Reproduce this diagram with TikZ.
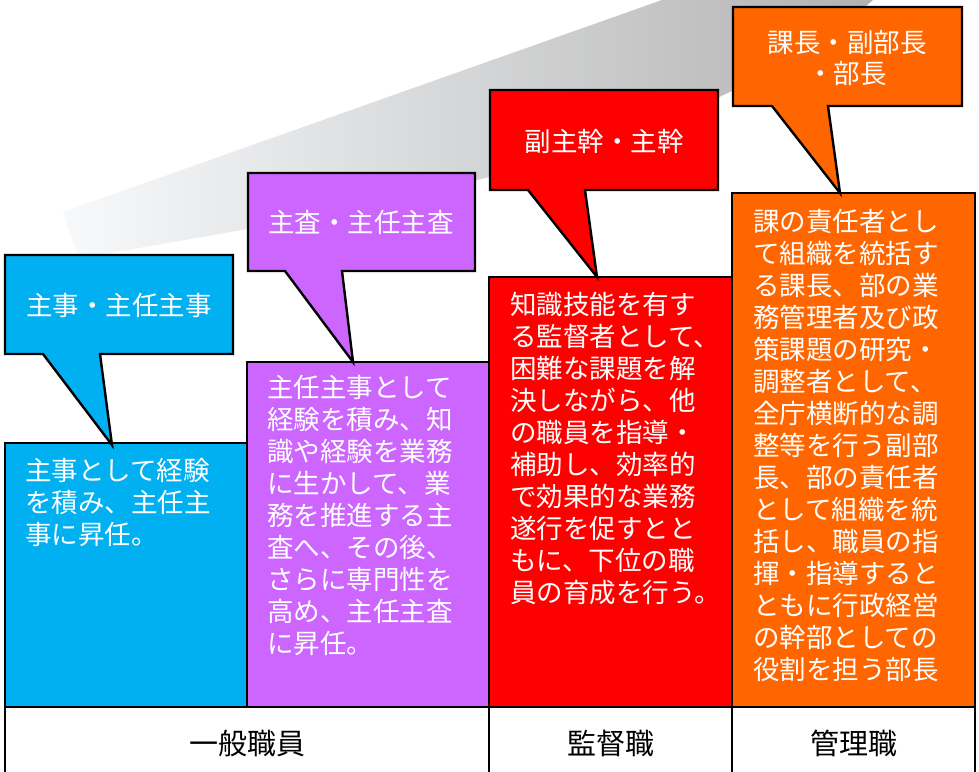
\documentclass[tikz,border=0pt]{standalone}
\usepackage{fontspec}
\usepackage{xcolor}
\usepackage{tikz}
\usetikzlibrary{positioning}
\newfontfamily\jpfont{Noto Sans CJK JP}
\definecolor{colCyan}{HTML}{00B0F0}
\definecolor{colPurple}{HTML}{CC66FF}
\definecolor{colRed}{HTML}{FF0000}
\definecolor{colOrange}{HTML}{FF6600}
\definecolor{bandLight}{HTML}{F7F9FB}
\definecolor{bandDark}{HTML}{B2B2B2}
\tikzset{
    bubble/.style={draw=black, line width=2.4pt, line join=miter},
    column/.style={rectangle, draw=black, line width=1.6pt, anchor=south west, inner sep=0pt, outer sep=0pt},
    coltext/.style={anchor=north west, align=left, inner sep=0pt, text=white, font=\jpfont\fontsize{26.5}{32}\selectfont},
    captext/.style={align=center, inner sep=0pt, text=white, font=\jpfont\fontsize{26.5}{31}\selectfont},
    rank/.style={rectangle, draw=black, line width=2.6pt, anchor=north west, inner sep=0pt, outer sep=0pt, minimum height=72pt, font=\jpfont\fontsize{29}{32}\selectfont},
}

\begin{document}
\begin{tikzpicture}[x=1pt, y=-1pt]
    \useasboundingbox (0,0) rectangle (979,771);
    \shade[left color=bandLight, right color=bandDark]
        (63,212) -- (78,258) .. controls (400,205) and (700,150) .. (873,0) -- (662,0) -- cycle;

    \node[column, fill=colCyan, minimum width=242pt, minimum height=264pt] (cyan) at (5,707) {};
    \node[column, fill=colPurple, minimum width=242pt, minimum height=345pt] (purple) at (cyan.south east) {};
    \node[column, fill=colRed, minimum width=243pt, minimum height=430pt] (red) at (purple.south east) {};
    \node[column, fill=colOrange, minimum width=243pt, minimum height=514pt] (orange) at (red.south east) {};

    \draw[bubble, fill=colCyan] (5,255) -- (233,255) -- (233,354) -- (100,354) -- (112,445) -- (43,354) -- (5,354) -- cycle;
    \draw[bubble, fill=colPurple] (248,173) -- (475,173) -- (475,271) -- (342,271) -- (353,362) -- (285,271) -- (248,271) -- cycle;
    \draw[bubble, fill=colRed] (490,90) -- (718,90) -- (718,190) -- (585,190) -- (597,277) -- (528,190) -- (490,190) -- cycle;
    \draw[bubble, fill=colOrange] (733,7) -- (962,7) -- (962,106) -- (828,106) -- (840,193) -- (772,106) -- (733,106) -- cycle;

    \node[captext] (shuji) at (119,305) {主事・主任主事};
    \node[captext] (shusa) at (361,222) {主査・主任主査};
    \node[captext] (shukan) at (604,141) {副主幹・主幹};
    \node[captext] (bucho) at (847,58) {課長・副部長\\・部長};

    \node[coltext] (cyantxt) at ([xshift=20pt, yshift=-15pt]cyan.north west)
        {主事として経験\\を積み、主任主\\事に昇任。};
    \node[coltext] (purpletxt) at ([xshift=20pt, yshift=-13pt]purple.north west)
        {主任主事として\\経験を積み、知\\識や経験を業務\\に生かして、業\\務を推進する主\\査へ、その後、\\さらに専門性を\\高め、主任主査\\に昇任。};
    \node[coltext] (redtxt) at ([xshift=21pt, yshift=-15pt]red.north west)
        {知識技能を有す\\る監督者として、\\困難な課題を解\\決しながら、他\\の職員を指導・\\補助し、効率的\\で効果的な業務\\遂行を促すとと\\もに、下位の職\\員の育成を行う。};
    \node[coltext] (orangetxt) at ([xshift=21pt, yshift=-16pt]orange.north west)
        {課の責任者とし\\て組織を統括す\\る課長、部の業\\務管理者及び政\\策課題の研究・\\調整者として、\\全庁横断的な調\\整等を行う副部\\長、部の責任者\\として組織を統\\括し、職員の指\\揮・指導すると\\ともに行政経営\\の幹部としての\\役割を担う部長};

    \node[rank, minimum width=484pt] (ippan) at (cyan.south west) {一般職員};
    \node[rank, minimum width=243pt] (kantoku) at (ippan.north east) {監督職};
    \node[rank, minimum width=243pt] (kanri) at (kantoku.north east) {管理職};
\end{tikzpicture}
\end{document}
